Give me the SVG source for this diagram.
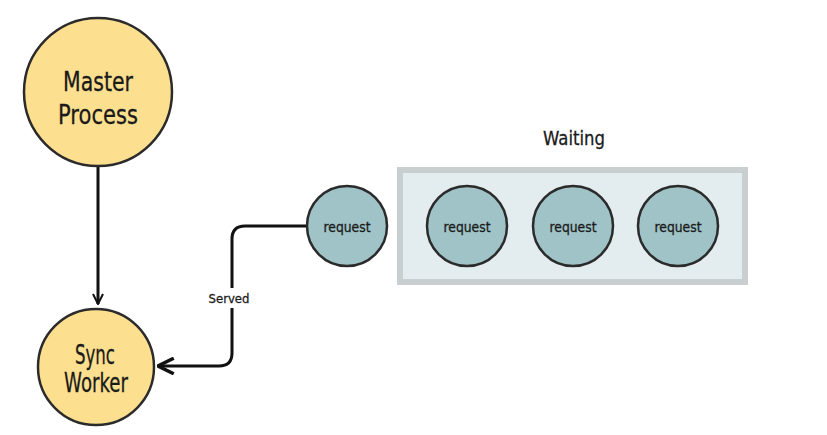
<svg xmlns="http://www.w3.org/2000/svg" width="827" height="435" viewBox="0 0 827 435">
<defs>
<style>
.proc{fill:#fde08f;stroke:#2b2b2b;stroke-width:2.5}
.req{fill:#9fc3c6;stroke:#2b2b2b;stroke-width:2.5}
.t{font-family:"DejaVu Sans",sans-serif;fill:#1a1a1a;text-anchor:middle;stroke:#1a1a1a;stroke-width:0.3}
.big{font-size:26px}
.small{font-size:14px}
.conn{fill:none;stroke:#111;stroke-width:3}
</style>
<marker id="ah" viewBox="0 0 12 12" refX="11" refY="6" markerWidth="12" markerHeight="12" markerUnits="userSpaceOnUse" orient="auto">
<path d="M1,1 L11,6 L1,11" fill="none" stroke="#111" stroke-width="2"/>
</marker>
<marker id="ah2" viewBox="0 0 16 16" refX="15" refY="8" markerWidth="18" markerHeight="18" markerUnits="userSpaceOnUse" orient="auto">
<path d="M1,1 L15,8 L1,15" fill="none" stroke="#111" stroke-width="3"/>
</marker>
</defs>
<rect width="827" height="435" fill="#fff"/>
<g id="waiting">
<rect x="400" y="170" width="345" height="112" fill="#e3ecee" stroke="#c9cfd1" stroke-width="6"/>
<text class="t" x="574" y="145" font-size="19" textLength="62" lengthAdjust="spacingAndGlyphs">Waiting</text>
</g>
<g id="connectors">
<line class="conn" x1="98" y1="166" x2="98" y2="304" stroke-width="2.5" marker-end="url(#ah)"/>
<path class="conn" d="M307,226 L245,226 Q232,226 232,239 L232,353 Q232,366 219,366 L158,366" marker-end="url(#ah2)"/>
<rect x="206" y="288" width="50" height="20" fill="#fff"/>
<text class="t" x="229" y="303" font-size="13" textLength="41" lengthAdjust="spacingAndGlyphs">Served</text>
</g>
<g id="master">
<circle class="proc" cx="98" cy="92" r="74"/>
<text class="t big" x="98" y="91" textLength="70" lengthAdjust="spacingAndGlyphs">Master</text>
<text class="t big" x="98" y="124" textLength="80" lengthAdjust="spacingAndGlyphs">Process</text>
</g>
<g id="worker">
<circle class="proc" cx="96" cy="367" r="58"/>
<text class="t big" x="95" y="364" textLength="40" lengthAdjust="spacingAndGlyphs">Sync</text>
<text class="t big" x="96" y="392" textLength="64" lengthAdjust="spacingAndGlyphs">Worker</text>
</g>
<g id="req0">
<circle class="req" cx="347" cy="226" r="40"/>
<text class="t small" x="347" y="232" textLength="47" lengthAdjust="spacingAndGlyphs">request</text>
</g>
<g id="req1">
<circle class="req" cx="467" cy="226" r="40"/>
<text class="t small" x="467" y="232" textLength="47" lengthAdjust="spacingAndGlyphs">request</text>
</g>
<g id="req2">
<circle class="req" cx="573" cy="226" r="40"/>
<text class="t small" x="573" y="232" textLength="47" lengthAdjust="spacingAndGlyphs">request</text>
</g>
<g id="req3">
<circle class="req" cx="678" cy="226" r="40"/>
<text class="t small" x="678" y="232" textLength="47" lengthAdjust="spacingAndGlyphs">request</text>
</g>
</svg>
